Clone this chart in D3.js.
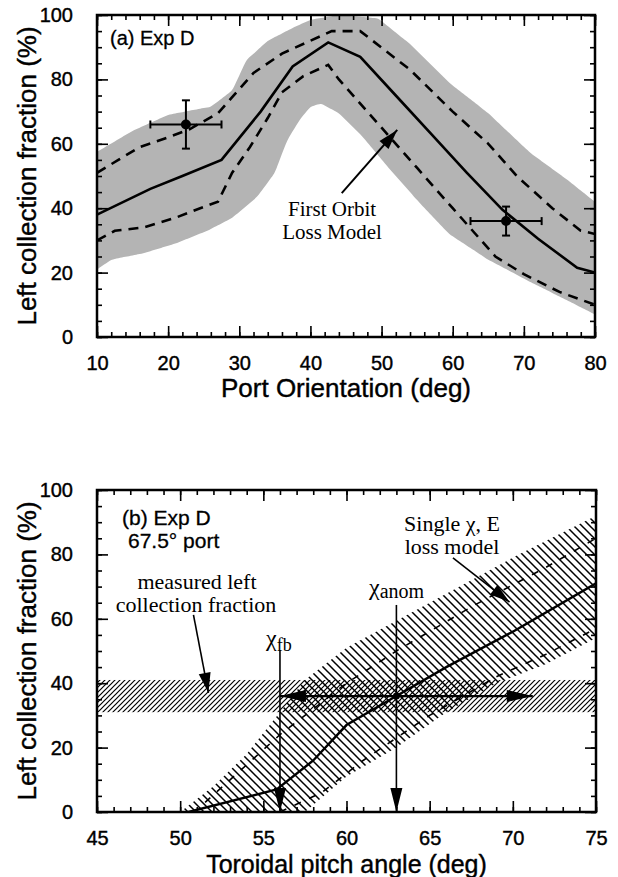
<!DOCTYPE html>
<html>
<head>
<meta charset="utf-8">
<script src="https://cdn.jsdelivr.net/npm/d3@7/dist/d3.min.js"></script>
<style>
  body { margin: 0; background: #fff; }
  text { fill: #000; }
</style>
</head>
<body>
<svg id="fig" width="618" height="877"></svg>
<script>
// ---- panel (a): port orientation scan ----
const portDeg   = [10, 17.5, 22, 27.5, 33, 37.5, 42.5, 47, 52, 57, 62, 67, 72, 77.5, 80];
const modelFrac = [38, 46, 50, 55, 70, 84, 91.5, 87, 75, 63, 51, 39.5, 30.5, 21.5, 20];

const upperDashDeg  = [10, 13, 16, 20, 23, 27, 29, 32, 36, 40, 43, 47, 54, 60, 65, 69, 74, 78, 80];
const upperDashFrac = [51, 55, 59, 62, 64.5, 69.5, 74.5, 82, 88, 92, 95, 95, 83, 70, 60, 50, 40, 33, 32];
const lowerDashDeg  = [10, 12.5, 16.5, 21, 24.5, 27, 29, 31.5, 34, 36, 39, 42.5, 44, 50, 55, 60, 66, 70, 75, 80];
const lowerDashFrac = [30, 33, 34, 37, 40, 42, 51, 59, 68, 76, 81, 84.5, 80, 65, 52.5, 40, 25, 19.5, 14, 10];

const bandTopDeg  = [10, 15, 20, 26, 29, 31, 34, 37.5, 40, 44, 49.5, 54, 59.5, 65, 71, 76, 80];
const bandTopFrac = [57.5, 64, 69, 71.5, 76.5, 86, 92, 96, 98.5, 100, 99, 91, 79, 69.5, 57, 49, 42];
const bandLowDeg  = [10, 12, 16.5, 21, 25.5, 29, 32.5, 35, 36.7, 38.5, 40, 41.5, 44, 47, 51, 55, 59.5, 65, 71, 76, 80];
const bandLowFrac = [21, 24, 26, 29, 33, 37, 43.5, 51, 61, 67.5, 71.5, 72.5, 69.5, 63, 52.5, 42.5, 32, 24, 17, 11.5, 7];

const measPort    = [22.5, 67.5];
const measFrac    = [66, 36];
const measPortErr = [5, 5];
const measFracErr = [7.5, 4.5];

// ---- panel (b): toroidal pitch angle scan ----
const pitchDeg   = [50.5, 55.8, 58, 60, 63, 66, 70, 75];
const pitchFrac  = [0, 7, 16, 27, 36, 45, 56, 71];
const lossTopDeg  = [50, 52, 54, 56, 57.5, 60, 65, 70, 75];
const lossTopFrac = [0, 8, 18, 31, 41, 51, 65, 79, 92];
const lossLowDeg  = [57.5, 60, 63, 66, 69, 72, 75];
const lossLowFrac = [0, 11, 20, 31, 40, 46, 54];
const lossUpDashDeg  = [51.5, 53, 56, 60, 63, 67.6, 72, 75];
const lossUpDashFrac = [3, 10, 24, 40, 50, 64, 76, 85];
const lossLoDashDeg  = [56, 58.5, 61, 65, 69, 72, 75];
const lossLoDashFrac = [0, 6, 16, 30, 42, 49, 57];

const measuredBand = [31, 41];   // measured left collection fraction (%)
const chiFb = 56, chiAnom = 63, chiHigh = 71.2, measuredLevel = 36;

const svg = d3.select("#fig");
const defs = svg.append("defs");

// hatch patterns
defs.append("pattern").attr("id", "hatchFine")
  .attr("patternUnits", "userSpaceOnUse").attr("width", 5).attr("height", 5)
  .append("path").attr("d", "M0,5 L5,0 M-1,1 L1,-1 M4,6 L6,4")
  .attr("stroke", "#000").attr("stroke-width", 1.2);
defs.append("pattern").attr("id", "hatchWide")
  .attr("patternUnits", "userSpaceOnUse").attr("width", 8).attr("height", 8)
  .append("path").attr("d", "M0,0 L8,8 M-2,6 L2,10 M6,-2 L10,2")
  .attr("stroke", "#000").attr("stroke-width", 1.5);

function arrowHead(g, x1, y1, x2, y2, len, half) {
  const a = Math.atan2(y2 - y1, x2 - x1);
  const bx = x2 - len * Math.cos(a), by = y2 - len * Math.sin(a);
  const px = -Math.sin(a) * half, py = Math.cos(a) * half;
  g.append("path")
    .attr("d", `M${x2},${y2}L${bx + px},${by + py}L${bx - px},${by - py}Z`)
    .attr("fill", "#000");
}

const serif = "Liberation Serif, Times New Roman, serif";
const sans = "Liberation Sans, Arial, sans-serif";

function frame(box, xDom, xMajor, xMinor, yMajor, yMinor, xTitle, yTitle, clipId, titleSize, titleGap) {
  const x = d3.scaleLinear().domain(xDom).range([box.left, box.right]);
  const y = d3.scaleLinear().domain([0, 100]).range([box.bottom, box.top]);

  defs.append("clipPath").attr("id", clipId).append("rect")
    .attr("x", box.left).attr("y", box.top)
    .attr("width", box.right - box.left).attr("height", box.bottom - box.top);

  const axes = svg.append("g").attr("class", "axes");
  const sty = s => s.call(g => g.select(".domain").remove())
    .call(g => g.selectAll("line").attr("stroke", "#000").attr("stroke-width", 1.6))
    .call(g => g.selectAll("text").attr("font-family", sans)
      .attr("font-size", 20).attr("fill", "#000")
      .attr("stroke", "#000").attr("stroke-width", 0.4));

  axes.append("g").attr("transform", `translate(0,${box.bottom})`)
    .call(d3.axisBottom(x).tickValues(xMinor).tickSize(-5).tickFormat("")).call(sty);
  axes.append("g").attr("transform", `translate(0,${box.bottom})`)
    .call(d3.axisBottom(x).tickValues(xMajor).tickSize(-11).tickPadding(19)).call(sty);
  axes.append("g").attr("transform", `translate(0,${box.top})`)
    .call(d3.axisTop(x).tickValues(xMinor).tickSize(-5).tickFormat("")).call(sty);
  axes.append("g").attr("transform", `translate(0,${box.top})`)
    .call(d3.axisTop(x).tickValues(xMajor).tickSize(-11).tickFormat("")).call(sty);
  axes.append("g").attr("transform", `translate(${box.left},0)`)
    .call(d3.axisLeft(y).tickValues(yMinor).tickSize(-5).tickFormat("")).call(sty);
  axes.append("g").attr("transform", `translate(${box.left},0)`)
    .call(d3.axisLeft(y).tickValues(yMajor).tickSize(-11).tickPadding(24)).call(sty);
  axes.append("g").attr("transform", `translate(${box.right},0)`)
    .call(d3.axisRight(y).tickValues(yMinor).tickSize(-5).tickFormat("")).call(sty);
  axes.append("g").attr("transform", `translate(${box.right},0)`)
    .call(d3.axisRight(y).tickValues(yMajor).tickSize(-11).tickFormat("")).call(sty);

  axes.append("rect").attr("x", box.left).attr("y", box.top)
    .attr("width", box.right - box.left).attr("height", box.bottom - box.top)
    .attr("fill", "none").attr("stroke", "#000").attr("stroke-width", 2.5);

  axes.append("text").attr("x", (box.left + box.right) / 2).attr("y", box.bottom + titleGap)
    .attr("text-anchor", "middle").attr("font-family", sans)
    .attr("stroke", "#000").attr("stroke-width", 0.4)
    .attr("font-size", titleSize).text(xTitle);
  axes.append("text")
    .attr("transform", `translate(36,${(box.top + box.bottom) / 2}) rotate(-90)`)
    .attr("text-anchor", "middle").attr("font-family", sans)
    .attr("stroke", "#000").attr("stroke-width", 0.4)
    .attr("font-size", 26).text(yTitle);
  return { x, y, axes };
}

// ================= panel (a) =================
const boxA = { left: 97, right: 595, top: 15, bottom: 337 };
const pa = frame(boxA, [10, 80],
  d3.range(10, 81, 10), d3.range(10, 81, 2),
  d3.range(0, 101, 20), d3.range(0, 101, 5),
  "Port Orientation (deg)", "Left collection fraction (%)", "clipA", 26, 60);

const gA = svg.insert("g", ".axes").attr("clip-path", "url(#clipA)");
const topA = d3.scaleLinear().domain(bandTopDeg).range(bandTopFrac);
const lowA = d3.scaleLinear().domain(bandLowDeg).range(bandLowFrac);
const bandPts = d3.range(10, 80.01, 0.5);
gA.append("path").datum(bandPts)
  .attr("d", d3.area().x(d => pa.x(d)).y0(d => pa.y(lowA(d))).y1(d => pa.y(topA(d))).curve(d3.curveBasis))
  .attr("fill", "#b4b4b4");

const lineA = d3.line().x(d => pa.x(d[0])).y(d => pa.y(d[1]));
gA.append("path").datum(d3.zip(upperDashDeg, upperDashFrac)).attr("d", lineA)
  .attr("fill", "none").attr("stroke", "#000").attr("stroke-width", 2.6).attr("stroke-dasharray", "10,7");
gA.append("path").datum(d3.zip(lowerDashDeg, lowerDashFrac)).attr("d", lineA)
  .attr("fill", "none").attr("stroke", "#000").attr("stroke-width", 2.6).attr("stroke-dasharray", "10,7");
gA.append("path").datum(d3.zip(portDeg, modelFrac)).attr("d", lineA)
  .attr("fill", "none").attr("stroke", "#000").attr("stroke-width", 2.6);

// measured points with error bars
const pts = gA.selectAll(".pt").data(d3.range(measPort.length)).enter().append("g");
pts.append("line")
  .attr("x1", i => pa.x(measPort[i] - measPortErr[i])).attr("x2", i => pa.x(measPort[i] + measPortErr[i]))
  .attr("y1", i => pa.y(measFrac[i])).attr("y2", i => pa.y(measFrac[i]))
  .attr("stroke", "#000").attr("stroke-width", 2);
pts.append("line")
  .attr("x1", i => pa.x(measPort[i])).attr("x2", i => pa.x(measPort[i]))
  .attr("y1", i => pa.y(measFrac[i] - measFracErr[i])).attr("y2", i => pa.y(measFrac[i] + measFracErr[i]))
  .attr("stroke", "#000").attr("stroke-width", 2);
[-1, 1].forEach(s => {
  pts.append("line")
    .attr("x1", i => pa.x(measPort[i] + s * measPortErr[i])).attr("x2", i => pa.x(measPort[i] + s * measPortErr[i]))
    .attr("y1", i => pa.y(measFrac[i]) - 4).attr("y2", i => pa.y(measFrac[i]) + 4)
    .attr("stroke", "#000").attr("stroke-width", 2);
  pts.append("line")
    .attr("x1", i => pa.x(measPort[i]) - 4).attr("x2", i => pa.x(measPort[i]) + 4)
    .attr("y1", i => pa.y(measFrac[i] + s * measFracErr[i])).attr("y2", i => pa.y(measFrac[i] + s * measFracErr[i]))
    .attr("stroke", "#000").attr("stroke-width", 2);
});
pts.append("circle").attr("cx", i => pa.x(measPort[i])).attr("cy", i => pa.y(measFrac[i]))
  .attr("r", 5).attr("fill", "#000");

// annotation
svg.append("text").attr("x", 110).attr("y", 45).attr("font-family", sans).attr("font-size", 20)
  .attr("stroke", "#000").attr("stroke-width", 0.3).text("(a) Exp D");
svg.append("text").attr("x", 332).attr("y", 216).attr("text-anchor", "middle")
  .attr("font-family", serif).attr("font-size", 21).text("First Orbit");
svg.append("text").attr("x", 332).attr("y", 239).attr("text-anchor", "middle")
  .attr("font-family", serif).attr("font-size", 21).text("Loss Model");
{
  const x1 = pa.x(44.4), y1 = pa.y(44.7), x2 = pa.x(52.2), y2 = pa.y(64.3);
  svg.append("line").attr("x1", x1).attr("y1", y1).attr("x2", x2).attr("y2", y2)
    .attr("stroke", "#000").attr("stroke-width", 2);
  arrowHead(svg, x1, y1, x2, y2, 20, 6);
}

// ================= panel (b) =================
const boxB = { left: 97, right: 596, top: 490, bottom: 812 };
const pb = frame(boxB, [45, 75],
  d3.range(45, 76, 5), d3.range(45, 76, 1),
  d3.range(0, 101, 20), d3.range(0, 101, 5),
  "Toroidal pitch angle (deg)", "Left collection fraction (%)", "clipB", 25, 61);

const gB = svg.insert("g", ".axes").attr("clip-path", "url(#clipB)");
// single chi, E loss model band
const lossPoly = d3.zip(lossTopDeg, lossTopFrac)
  .concat([[75, 100]])
  .concat(d3.zip(lossLowDeg, lossLowFrac).reverse());
gB.append("path").datum(lossPoly)
  .attr("d", d3.line().x(d => pb.x(d[0])).y(d => pb.y(d[1])).curve(d3.curveLinearClosed))
  .attr("fill", "url(#hatchWide)");
// measured band
gB.append("rect").attr("x", pb.x(45)).attr("width", pb.x(75) - pb.x(45))
  .attr("y", pb.y(measuredBand[1])).attr("height", pb.y(measuredBand[0]) - pb.y(measuredBand[1]))
  .attr("fill", "url(#hatchFine)");

const lineB = d3.line().x(d => pb.x(d[0])).y(d => pb.y(d[1]));
gB.append("path").datum(d3.zip(lossUpDashDeg, lossUpDashFrac)).attr("d", lineB)
  .attr("fill", "none").attr("stroke", "#000").attr("stroke-width", 1.6).attr("stroke-dasharray", "7,9");
gB.append("path").datum(d3.zip(lossLoDashDeg, lossLoDashFrac)).attr("d", lineB)
  .attr("fill", "none").attr("stroke", "#000").attr("stroke-width", 1.6).attr("stroke-dasharray", "7,9");
gB.append("path").datum(d3.zip(pitchDeg, pitchFrac)).attr("d", lineB)
  .attr("fill", "none").attr("stroke", "#000").attr("stroke-width", 2.4);

// chi_fb and chi_anom markers
const vline = (xv, ytop) => {
  const X = pb.x(xv), Y1 = pb.y(ytop), Y2 = pb.y(0);
  svg.append("line").attr("x1", X).attr("x2", X).attr("y1", Y1).attr("y2", Y2)
    .attr("stroke", "#000").attr("stroke-width", 1.6);
  arrowHead(svg, X, Y1, X, Y2, 24, 6);
};
vline(chiFb, 50.3);
vline(chiAnom, 64.3);
{
  const Y = pb.y(measuredLevel);
  svg.append("line").attr("x1", pb.x(chiFb)).attr("x2", pb.x(chiHigh)).attr("y1", Y).attr("y2", Y)
    .attr("stroke", "#000").attr("stroke-width", 2.4);
  arrowHead(svg, pb.x(chiAnom), Y, pb.x(chiFb), Y, 26, 6);
  arrowHead(svg, pb.x(chiAnom), Y, pb.x(chiHigh), Y, 26, 6);
  svg.append("circle").attr("cx", pb.x(chiAnom)).attr("cy", Y).attr("r", 3.5).attr("fill", "#000");
}

svg.append("text").attr("x", 122).attr("y", 525).attr("font-family", sans).attr("font-size", 21)
  .attr("stroke", "#000").attr("stroke-width", 0.3).text("(b) Exp D");
svg.append("text").attr("x", 128).attr("y", 548).attr("font-family", sans).attr("font-size", 21)
  .attr("stroke", "#000").attr("stroke-width", 0.3).text("67.5° port");
svg.append("text").attr("x", 197).attr("y", 589).attr("text-anchor", "middle")
  .attr("font-family", serif).attr("font-size", 22).text("measured left");
svg.append("text").attr("x", 196).attr("y", 612).attr("text-anchor", "middle")
  .attr("font-family", serif).attr("font-size", 22).text("collection fraction");
{
  const x1 = pb.x(50.8), y1 = pb.y(61.2), x2 = pb.x(51.7), y2 = pb.y(37);
  svg.append("line").attr("x1", x1).attr("y1", y1).attr("x2", x2).attr("y2", y2)
    .attr("stroke", "#000").attr("stroke-width", 1.6);
  arrowHead(svg, x1, y1, x2, y2, 20, 6);
}
svg.append("text").attr("x", 452).attr("y", 531).attr("text-anchor", "middle")
  .attr("font-family", serif).attr("font-size", 22).text("Single χ, E");
svg.append("text").attr("x", 452).attr("y", 554).attr("text-anchor", "middle")
  .attr("font-family", serif).attr("font-size", 22).text("loss model");
{
  const x1 = pb.x(66.4), y1 = pb.y(78.9), x2 = pb.x(69.8), y2 = pb.y(65.2);
  svg.append("line").attr("x1", x1).attr("y1", y1).attr("x2", x2).attr("y2", y2)
    .attr("stroke", "#000").attr("stroke-width", 1.6);
  arrowHead(svg, x1, y1, x2, y2, 20, 6);
}
const tfb = svg.append("text").attr("x", 266).attr("y", 646).attr("font-family", serif).attr("font-size", 24);
tfb.append("tspan").text("χ");
tfb.append("tspan").attr("dy", 5).attr("font-size", 18).text("fb");
const tan = svg.append("text").attr("x", 369).attr("y", 595).attr("font-family", serif).attr("font-size", 24);
tan.append("tspan").text("χ");
tan.append("tspan").attr("dy", 3).attr("font-size", 20).text("anom");
</script>
</body>
</html>
